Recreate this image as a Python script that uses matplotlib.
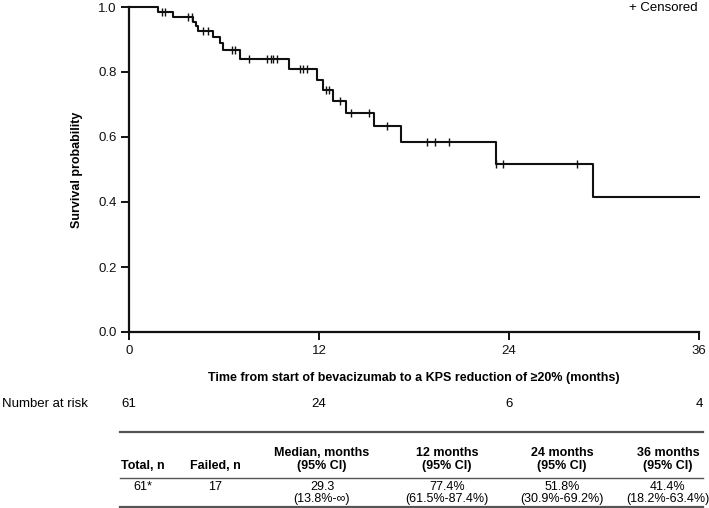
import numpy as np
import matplotlib
matplotlib.use("Agg")
import matplotlib.pyplot as plt
from matplotlib.lines import Line2D
from matplotlib.transforms import blended_transform_factory

plt.rcParams["font.family"] = ["Liberation Sans", "DejaVu Sans"]

# Kaplan-Meier steps
event_times = [1.8, 2.76, 4.06, 4.2, 4.35, 5.33, 5.75, 5.96, 7.0, 10.13, 11.9,
               12.28, 12.87, 13.71, 15.5, 17.2, 23.2, 29.3]
surv_after = [0.984, 0.968, 0.955, 0.942, 0.927, 0.908, 0.888, 0.868, 0.839, 0.810,
              0.774, 0.745, 0.712, 0.675, 0.634, 0.586, 0.518, 0.414]
censor_times = [2.06, 2.27, 3.75, 3.96, 4.7, 5.0, 6.49, 6.7, 7.6, 8.7, 8.95, 9.12,
                9.33, 10.8, 11.0, 11.27, 12.45, 12.65, 13.33, 14.0, 15.16, 16.3,
                18.8, 19.3, 20.2, 23.2, 23.6, 28.3]
t_max = 36

xticks = [0, 12, 24, 36]
at_risk = [61, 24, 6, 4]

table_header = ["Total, n", "Failed, n", "Median, months\n(95% CI)",
                "12 months\n(95% CI)", "24 months\n(95% CI)", "36 months\n(95% CI)"]
table_row = ["61*", "17", "29.3\n(13.8%-\u221e)", "77.4%\n(61.5%-87.4%)",
             "51.8%\n(30.9%-69.2%)", "41.4%\n(18.2%-63.4%)"]

W, H = 709, 508
fig = plt.figure(figsize=(W / 100, H / 100), dpi=100)
ax = fig.add_axes([129 / W, 1 - 332 / H, 570 / W, 325 / H])

xs = [0] + event_times + [t_max]
ys = [1.0] + surv_after + [surv_after[-1]]
ax.plot(xs, ys, drawstyle="steps-post", color="#111111", lw=1.5, clip_on=False)

# censor marks sit on the step curve
idx = np.searchsorted(event_times, censor_times, side="right")
cy = [1.0 if i == 0 else surv_after[i - 1] for i in idx]
ax.plot(censor_times, cy, ls="none", marker="|", ms=6, mew=1.0, color="#111111",
        clip_on=False)

ax.set_xlim(0, t_max)
ax.set_ylim(0, 1)
ax.set_xticks(xticks)
ax.set_yticks(np.arange(0, 1.01, 0.2))
ax.set_yticklabels([f"{v:.1f}" for v in np.arange(0, 1.01, 0.2)])
for s in ["top", "right"]:
    ax.spines[s].set_visible(False)
for s in ["left", "bottom"]:
    ax.spines[s].set_linewidth(1.6)
    ax.spines[s].set_color("#111111")
ax.tick_params(direction="out", length=6, width=1.4, labelsize=9.5, colors="#111111", pad=3)

ax.set_ylabel("Survival probability", fontsize=9, fontweight="bold", labelpad=11)
ax.set_xlabel("Time from start of bevacizumab to a KPS reduction of \u226520% (months)",
              fontsize=9, fontweight="bold", labelpad=11)

fig.text(698 / W, 1 - 8 / H, "+ Censored", ha="right", va="center", fontsize=9.5)

# number at risk row
tr = blended_transform_factory(ax.transData, fig.transFigure)
fig.text(2 / W, 1 - 404 / H, "Number at risk", ha="left", va="center", fontsize=9.5)
for x, n in zip(xticks, at_risk):
    ax.text(x, 1 - 404 / H, str(n), transform=tr, ha="center", va="center", fontsize=9.5)

# summary table
col_x = [143, 215, 322, 447, 562, 668]
for yy, lw in [(432, 1.6), (478, 1.0), (507, 1.6)]:
    fig.add_artist(Line2D([120 / W, 703 / W], [1 - yy / H] * 2, color="#555555",
                          lw=lw, transform=fig.transFigure))
for x, txt in zip(col_x, table_header):
    fig.text(x / W, 1 - 472 / H, txt, ha="center", va="bottom", fontsize=9,
             fontweight="bold", linespacing=1.15)
for x, txt in zip(col_x, table_row):
    fig.text(x / W, 1 - 481 / H, txt, ha="center", va="top", fontsize=9,
             linespacing=1.05)

fig.savefig("out.png", dpi=100)
